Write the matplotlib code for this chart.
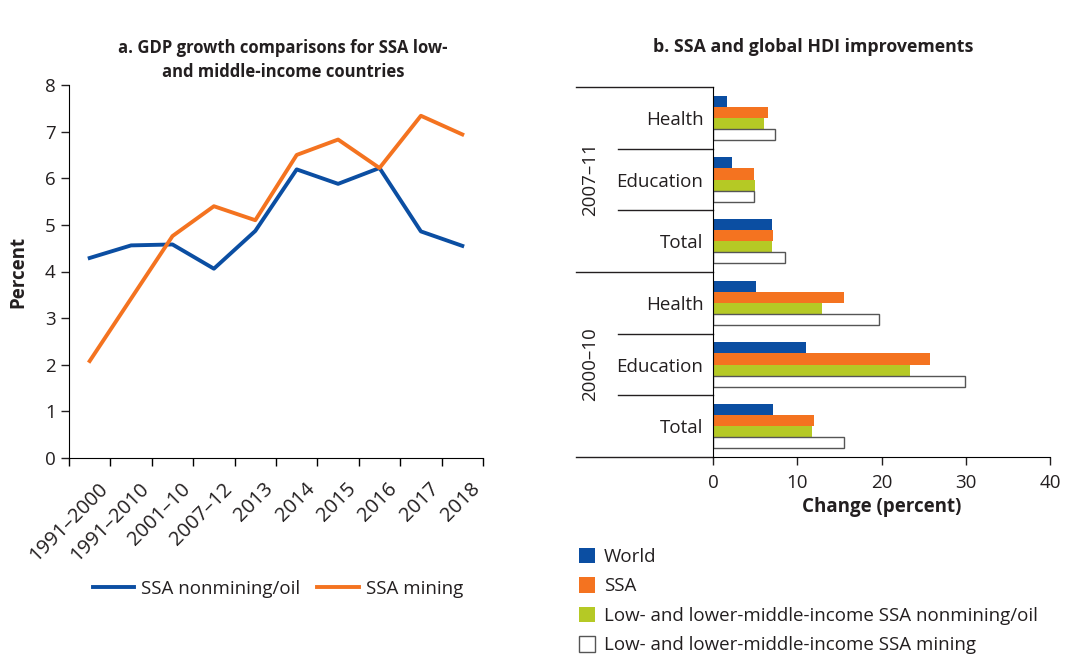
import matplotlib
matplotlib.use("Agg")
import matplotlib.pyplot as plt
from matplotlib.patches import Patch
from matplotlib.lines import Line2D
from matplotlib.transforms import ScaledTranslation
import numpy as np

plt.rcParams['font.family'] = ['Open Sans', 'DejaVu Sans']

# Panel a data
periods = ["1991–2000", "1991–2010", "2001–10", "2007–12", "2013", "2014",
           "2015", "2016", "2017", "2018"]
nonmining = [4.29, 4.56, 4.58, 4.06, 4.87, 6.19, 5.88, 6.22, 4.86, 4.55]
mining = [2.08, 3.42, 4.76, 5.40, 5.10, 6.50, 6.83, 6.22, 7.34, 6.94]

# Panel b data (top to bottom)
categories = ["Health", "Education", "Total", "Health", "Education", "Total"]
groups = ["2007–11", "2000–10"]
world = [1.7, 2.2, 7.0, 5.1, 11.0, 7.1]
ssa = [6.5, 4.9, 7.1, 15.6, 25.7, 12.0]
nonmining_hdi = [6.1, 5.0, 7.05, 12.9, 23.4, 11.7]
mining_hdi = [7.3, 4.9, 8.5, 19.7, 29.9, 15.6]

blue = "#0B4EA2"
orange = "#F47320"
green = "#B5C925"
txt = "#231f20"
fs = 13.5
W, H = 1069, 658

fig = plt.figure(figsize=(W / 100, H / 100), dpi=100)


def rect(x0, y0, x1, y1):
    return [x0 / W, 1 - y1 / H, (x1 - x0) / W, (y1 - y0) / H]


# ---- panel a
ax = fig.add_axes(rect(69, 85, 483, 458))
x = np.arange(len(periods))
ax.plot(x, nonmining, color=blue, lw=2.8)
ax.plot(x, mining, color=orange, lw=2.8)
ax.set_xlim(-0.5, len(periods) - 0.5)
ax.set_ylim(0, 8)
ax.set_yticks(range(9))
ax.set_xticks(np.arange(-0.5, len(periods)))
ax.set_xticklabels([])
ax.tick_params(axis='x', length=6, width=1)
ax.tick_params(axis='y', length=6, width=1, labelsize=fs, colors=txt)
# rotated category labels, anchored just below each category centre
off = ax.get_xaxis_transform() + ScaledTranslation(0.08, -0.21, fig.dpi_scale_trans)
for i, p in enumerate(periods):
    ax.text(i, 0, p, transform=off, rotation=45, ha='right', va='top',
            rotation_mode='anchor', fontsize=14.5, color=txt)
for s in ['top', 'right']:
    ax.spines[s].set_visible(False)
ax.set_ylabel("Percent", fontsize=fs, fontweight='bold', labelpad=12, color=txt)
fig.text(283 / W, 1 - 60 / H, "a. GDP growth comparisons for SSA low-\nand middle-income countries",
         fontsize=12, fontweight='bold', ha='center', va='center', linespacing=1.45, color=txt)

fig.legend(handles=[Line2D([], [], color=blue, lw=2.8, label="SSA nonmining/oil"),
                    Line2D([], [], color=orange, lw=2.8, label="SSA mining")],
           loc='center', bbox_to_anchor=(278 / W, 1 - 589 / H), ncol=2,
           frameon=False, fontsize=fs, handlelength=2.2, columnspacing=0.9,
           handletextpad=0.4, labelcolor=txt)

# ---- panel b
bx = fig.add_axes(rect(713, 87, 1050, 457))
y = np.arange(len(categories))
h = 0.18
series = [(world, blue, blue), (ssa, orange, orange),
          (nonmining_hdi, green, green), (mining_hdi, 'white', '#555555')]
for i, (vals, fc, ec) in enumerate(series):
    bx.barh(y + (i - 1.5) * h, vals, height=h, color=fc, edgecolor=ec,
            linewidth=1.0 if fc == 'white' else 0)
bx.set_ylim(len(categories) - 0.5, -0.5)
bx.set_xlim(0, 40)
bx.set_xticks([0, 10, 20, 30, 40])
bx.set_yticks(y)
bx.set_yticklabels(categories)
bx.tick_params(axis='y', length=0, pad=7, labelsize=fs, colors=txt)
bx.tick_params(axis='x', length=6, width=1, labelsize=fs, colors=txt, pad=6)
for s in ['top', 'right']:
    bx.spines[s].set_visible(False)
bx.set_xlabel("Change (percent)", fontsize=fs, fontweight='bold', labelpad=4, color=txt)
fig.text(813 / W, 1 - 47 / H, "b. SSA and global HDI improvements",
         fontsize=12.8, fontweight='bold', ha='center', va='center', color=txt)

# group separators
far = (576 - 713) / 337
near = (618 - 713) / 337
tr = bx.get_yaxis_transform()
for yy in [-0.5, 2.5, 5.5]:
    bx.plot([far, 0], [yy, yy], color=txt, lw=1, transform=tr, clip_on=False)
for yy in [0.5, 1.5, 3.5, 4.5]:
    bx.plot([near, 0], [yy, yy], color=txt, lw=1, transform=tr, clip_on=False)
for gi, g in enumerate(groups):
    bx.text((590 - 713) / 337, 1 + gi * 3, g, transform=tr, rotation=90,
            ha='center', va='center', fontsize=fs, color=txt)

fig.legend(handles=[Patch(facecolor=blue, label="World"),
                    Patch(facecolor=orange, label="SSA"),
                    Patch(facecolor=green, label="Low- and lower-middle-income SSA nonmining/oil"),
                    Patch(facecolor='white', edgecolor='#555555', lw=1,
                          label="Low- and lower-middle-income SSA mining")],
           loc='upper left', bbox_to_anchor=(571 / W, 1 - 540 / H), frameon=False,
           fontsize=fs, handlelength=0.9, handleheight=0.9, labelspacing=0.6,
           handletextpad=0.45, borderaxespad=0, labelcolor=txt)

fig.savefig("out.png", dpi=100)
